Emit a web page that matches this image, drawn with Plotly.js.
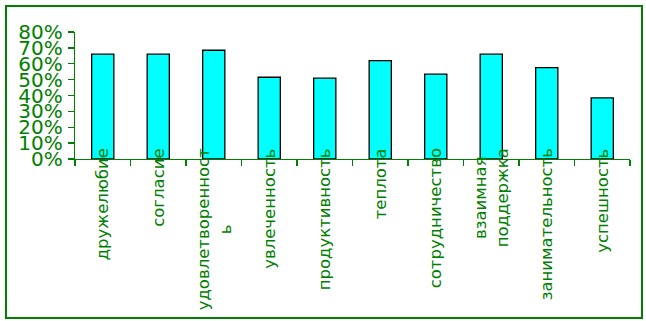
<!DOCTYPE html>
<html><head><meta charset="utf-8">
<script src="https://cdn.plot.ly/plotly-3.0.1.min.js"></script>
<style>
html,body{margin:0;padding:0;background:#fff;}
#wrap{position:relative;width:646px;height:321px;}
#c{width:646px;height:321px;}
#frame{position:absolute;left:5px;top:5px;width:634px;height:310px;border:2px solid #008000;pointer-events:none;}
</style>
</head><body>
<div id="wrap"><div id="c"></div><div id="frame"></div></div>
<script>
const categories = ["дружелюбие","согласие","удовлетворенност<br>ь","увлеченность","продуктивность","теплота","сотрудничество","взаимная<br>поддержка","занимательность","успешность"];
const values = [0.66,0.66,0.685,0.515,0.51,0.62,0.535,0.66,0.575,0.385];
const yTickVals = [0,0.1,0.2,0.3,0.4,0.5,0.6,0.7,0.8];
const yTickText = ["0%","10%","20%","30%","40%","50%","60%","70%","80%"];
const gridVals = [0.1,0.2,0.3,0.4,0.5,0.6,0.7];

const green = "#008000";
const trace = {
  type: "bar", x: categories, y: values,
  marker: {color: "#00FFFF", line: {color: "#000000", width: 1.3}},
  hoverinfo: "skip"
};
const labelAnns = categories.map(c => ({
  x: c, xref: "x", y: 0.09, yref: "paper",
  text: c, showarrow: false, textangle: -90,
  xanchor: "center", yanchor: "top", align: "center",
  borderpad: 0,
  font: {family: "DejaVu Sans", size: 16.5, color: green}
}));
const layout = {
  width: 646, height: 321,
  margin: {l: 75, r: 16, t: 32, b: 162, pad: 0},
  paper_bgcolor: "#ffffff", plot_bgcolor: "#ffffff",
  showlegend: false,
  bargap: 0.6,
  xaxis: {
    type: "category", showline: true, linecolor: green, linewidth: 1.3,
    ticks: "outside", tickson: "boundaries", ticklen: 6, tickcolor: green, tickwidth: 1.3,
    showticklabels: false,
    showgrid: false, zeroline: false, automargin: false
  },
  yaxis: {
    range: [0, 0.8], tickvals: yTickVals, ticktext: yTickText,
    showline: true, linecolor: green, linewidth: 1.3,
    ticks: "outside", ticklen: 6, tickcolor: green, tickwidth: 1.3,
    ticklabelstandoff: 1,
    tickfont: {family: "DejaVu Sans", size: 20, color: green},
    showgrid: false, zeroline: false, automargin: false
  },
  yaxis2: {
    overlaying: "y", anchor: "x", range: [0, 0.8], tickvals: gridVals,
    showticklabels: false, ticks: "", showline: false, zeroline: false,
    showgrid: true, gridcolor: green, gridwidth: 1.3
  },
  annotations: labelAnns
};
Plotly.newPlot("c", [trace], layout, {staticPlot: true, displayModeBar: false});
</script>
</body></html>
